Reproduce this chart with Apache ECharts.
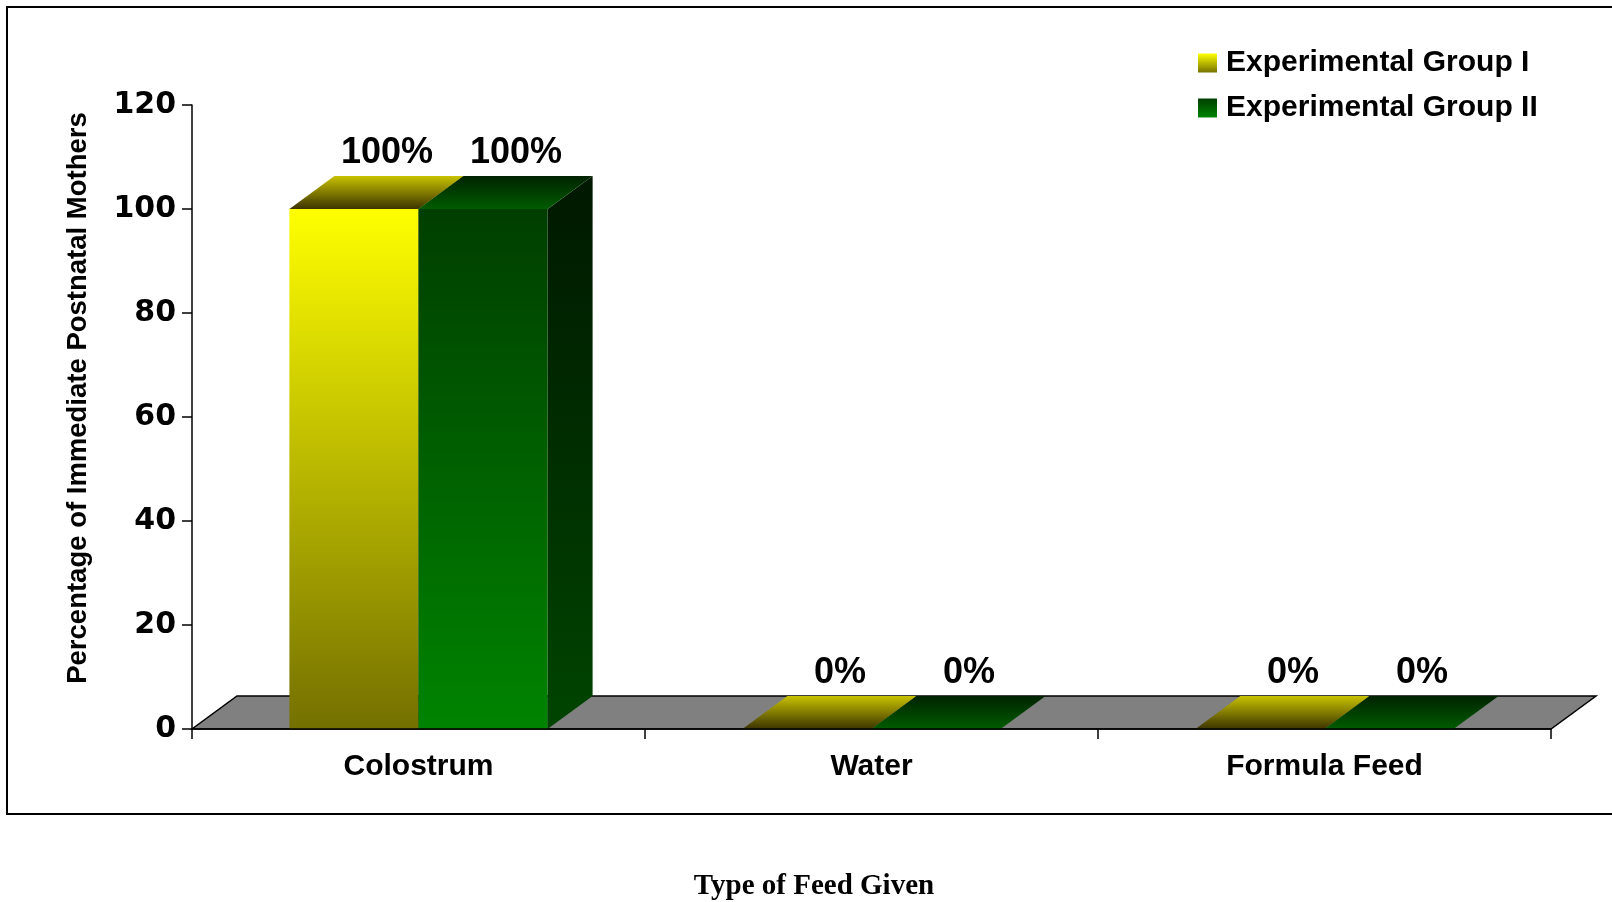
<!DOCTYPE html>
<html>
<head>
<meta charset="utf-8">
<title>Type of Feed Given</title>
<script src="https://cdn.jsdelivr.net/npm/echarts@6/dist/echarts.min.js"></script>
<style>
  html, body { margin: 0; padding: 0; background: #ffffff; }
  #chart { width: 1612px; height: 902px; }
</style>
</head>
<body>
<div id="chart"></div>
<script>
// Feed types and the share of mothers (in %) in each group
const categories = ['Colostrum', 'Water', 'Formula Feed'];
const groupI = [100, 0, 0];
const groupII = [100, 0, 0];
const seriesNames = ['Experimental Group I', 'Experimental Group II'];
const yMin = 0, yMax = 120, yStep = 20;

// Oblique depth of the pseudo-3D bars and floor, in pixels
const DEPTH_X = 45, DEPTH_Y = 33;
// Width of one bar as a share of its category band
const BAR_SHARE = 0.285;

const SANS = '"Liberation Sans", Arial, Helvetica, sans-serif';

function vGrad(stops) {
  return new echarts.graphic.LinearGradient(0, 0, 0, 1,
    stops.map((c, i) => ({ offset: i / (stops.length - 1), color: c })));
}

const palettes = [
  { front: ['#ffff00', '#747000'], top: ['#c8c200', '#3c3400'], side: ['#8a8400', '#3a3600'] },
  { front: ['#003e00', '#008400'], top: ['#002200', '#005c00'], side: ['#001800', '#004400'] }
];

// Draws one pseudo-3D bar: front face, right side face, top face and value label
function barRenderer(slot) {
  const pal = palettes[slot];
  return function (params, api) {
    const cat = api.value(0);
    const val = api.value(1);
    const base = api.coord([cat, 0]);
    const top = api.coord([cat, val]);
    const band = api.size([1, 0])[0];
    const w = band * BAR_SHARE;
    const x0 = base[0] + (slot - 1) * w;
    const x1 = x0 + w;
    const yb = base[1];
    const yt = top[1];
    const h = yb - yt;
    const children = [];
    if (h > 0.5) {
      children.push({
        type: 'rect',
        shape: { x: x0, y: yt, width: w, height: h },
        style: { fill: vGrad(pal.front) }
      });
      children.push({
        type: 'polygon',
        shape: { points: [[x1, yt], [x1 + DEPTH_X, yt - DEPTH_Y], [x1 + DEPTH_X, yb - DEPTH_Y], [x1, yb]] },
        style: { fill: vGrad(pal.side) }
      });
    }
    children.push({
      type: 'polygon',
      shape: { points: [[x0, yt], [x1, yt], [x1 + DEPTH_X, yt - DEPTH_Y], [x0 + DEPTH_X, yt - DEPTH_Y]] },
      style: { fill: vGrad(pal.top) }
    });
    children.push({
      type: 'text',
      x: (x0 + x1) / 2 + 33,
      y: yt - DEPTH_Y - 5,
      style: {
        text: val + '%',
        fontFamily: SANS,
        fontWeight: 'bold',
        fontSize: 36,
        fill: '#000000',
        align: 'center',
        verticalAlign: 'bottom'
      }
    });
    return { type: 'group', children: children };
  };
}

// Grey floor slab spanning all category bands
function floorRenderer(params, api) {
  const band = api.size([1, 0])[0];
  const first = api.coord([0, 0]);
  const last = api.coord([categories.length - 1, 0]);
  const xl = first[0] - band / 2;
  const xr = last[0] + band / 2;
  const y = first[1];
  return {
    type: 'polygon',
    shape: { points: [[xl, y], [xr, y], [xr + DEPTH_X, y - DEPTH_Y], [xl + DEPTH_X, y - DEPTH_Y]] },
    style: { fill: '#808080', stroke: '#000000', lineWidth: 1.5 }
  };
}

const chart = echarts.init(document.getElementById('chart'), null, { renderer: 'canvas' });

chart.setOption({
  animation: false,
  backgroundColor: '#ffffff',
  grid: { left: 192, right: 61, top: 105, bottom: 173, containLabel: false, outerBoundsMode: 'none' },
  legend: {
    data: seriesNames,
    orient: 'vertical',
    left: 1198,
    top: 48,
    padding: 0,
    itemWidth: 19,
    itemHeight: 19,
    itemGap: 15,
    icon: 'rect',
    textStyle: { fontFamily: SANS, fontWeight: 'bold', fontSize: 30, color: '#000000', padding: [0, 0, 0, 4] }
  },
  xAxis: {
    type: 'category',
    data: categories,
    z: 5,
    name: 'Type of Feed Given',
    nameLocation: 'middle',
    nameGap: 143,
    nameTextStyle: {
      fontFamily: '"Liberation Serif", "Times New Roman", serif',
      fontWeight: 'bold',
      fontSize: 29,
      color: '#000000',
      padding: [0, 115, 0, 0]
    },
    axisLine: { lineStyle: { color: '#000000', width: 1.5 } },
    axisTick: { show: true, length: 10, lineStyle: { color: '#000000', width: 1.5 } },
    axisLabel: { fontFamily: SANS, fontWeight: 'bold', fontSize: 30, color: '#000000', margin: 23 },
    splitLine: { show: false }
  },
  yAxis: {
    type: 'value',
    min: yMin,
    max: yMax,
    interval: yStep,
    z: 5,
    name: 'Percentage of Immediate Postnatal Mothers',
    nameLocation: 'middle',
    nameGap: 100,
    nameTextStyle: {
      fontFamily: SANS,
      fontWeight: 'bold',
      fontSize: 27.5,
      color: '#000000',
      padding: [0, 0, 0, 38]
    },
    axisLine: { show: true, lineStyle: { color: '#000000', width: 1.5 } },
    axisTick: { show: true, length: 10, lineStyle: { color: '#000000', width: 1.5 } },
    axisLabel: { fontFamily: '"DejaVu Sans", Verdana, sans-serif', fontWeight: 'bold', fontSize: 30, color: '#000000', margin: 16 },
    splitLine: { show: false }
  },
  graphic: [{
    type: 'rect',
    z: 100,
    silent: true,
    shape: { x: 7, y: 7, width: 1640, height: 807 },
    style: { fill: 'none', stroke: '#000000', lineWidth: 2 }
  }],
  series: [
    {
      type: 'custom',
      silent: true,
      renderItem: floorRenderer,
      encode: { x: 0, y: 1 },
      data: [[0, 0]],
      z: 1
    },
    {
      type: 'custom',
      name: seriesNames[0],
      renderItem: barRenderer(0),
      encode: { x: 0, y: 1 },
      itemStyle: { color: vGrad(['#ffff00', '#767200']) },
      data: groupI.map((v, i) => [i, v]),
      z: 2
    },
    {
      type: 'custom',
      name: seriesNames[1],
      renderItem: barRenderer(1),
      encode: { x: 0, y: 1 },
      itemStyle: { color: vGrad(['#003e00', '#008400']) },
      data: groupII.map((v, i) => [i, v]),
      z: 3
    }
  ]
});
</script>
</body>
</html>
